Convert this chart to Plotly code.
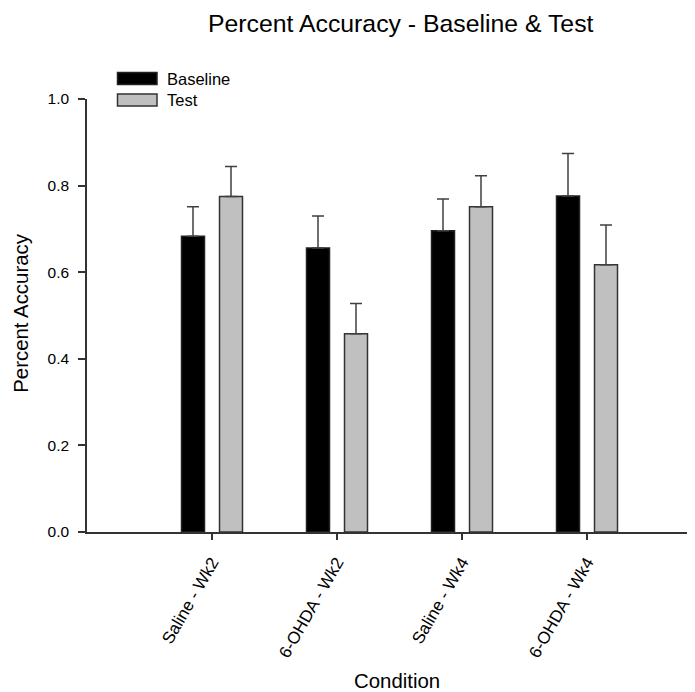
import plotly.graph_objects as go

categories = ["Saline - Wk2", "6-OHDA - Wk2", "Saline - Wk4", "6-OHDA - Wk4"]
baseline = [0.683, 0.656, 0.696, 0.776]
baseline_err = [0.068, 0.074, 0.073, 0.098]
test = [0.775, 0.458, 0.751, 0.617]
test_err = [0.069, 0.070, 0.072, 0.092]
y_ticks = [0.0, 0.2, 0.4, 0.6, 0.8, 1.0]

FONT = "Arial, Liberation Sans, sans-serif"
OFF = 8  # page body margin
W, H = 695 - OFF, 692 - OFF
L, T = 87 - OFF, 98.5 - OFF
B = H - (532 - OFF)
R = 0
pw, ph = W - L - R, H - T - B


def px_to_paper_x(px):
    return (px - OFF - L) / pw


def px_to_paper_y(py):
    return (H - B - (py - OFF)) / ph


fig = go.Figure()
fig.add_trace(go.Bar(
    x=categories, y=baseline, name="Baseline",
    marker=dict(color="black", line=dict(color="#222222", width=1.5)),
    error_y=dict(type="data", symmetric=False, array=baseline_err,
                 arrayminus=[0] * len(baseline_err),
                 color="#404040", thickness=1.5, width=6),
    showlegend=False,
))
fig.add_trace(go.Bar(
    x=categories, y=test, name="Test",
    marker=dict(color="#c0c0c0", line=dict(color="#333333", width=1.5)),
    error_y=dict(type="data", symmetric=False, array=test_err,
                 arrayminus=[0] * len(test_err),
                 color="#404040", thickness=1.5, width=6),
    showlegend=False,
))

# custom legend (wide swatches)
shapes = []
annotations = []
for i, (name, fill, line) in enumerate([("Baseline", "black", "#222222"),
                                         ("Test", "#c0c0c0", "#333333")]):
    y0 = 72 + i * 21.5
    shapes.append(dict(type="rect", xref="paper", yref="paper",
                       x0=px_to_paper_x(117.5), x1=px_to_paper_x(157),
                       y0=px_to_paper_y(y0), y1=px_to_paper_y(y0 + 12),
                       fillcolor=fill, line=dict(color=line, width=1.5)))
    annotations.append(dict(text=name, xref="paper", yref="paper",
                            x=px_to_paper_x(165), y=px_to_paper_y(y0 + 6),
                            xanchor="left", yanchor="middle", showarrow=False,
                            font=dict(family=FONT, size=16.5, color="black")))

# title and axis titles
annotations.append(dict(text="Percent Accuracy - Baseline & Test", xref="paper", yref="paper",
                        x=px_to_paper_x(401), y=px_to_paper_y(23),
                        xanchor="center", yanchor="middle", showarrow=False,
                        font=dict(family=FONT, size=24.8, color="black")))
annotations.append(dict(text="Percent Accuracy", xref="paper", yref="paper",
                        x=px_to_paper_x(21), y=px_to_paper_y(313.5), textangle=-90,
                        xanchor="center", yanchor="middle", showarrow=False,
                        font=dict(family=FONT, size=20.4, color="black")))
annotations.append(dict(text="Condition", xref="paper", yref="paper",
                        x=px_to_paper_x(397), y=px_to_paper_y(681),
                        xanchor="center", yanchor="middle", showarrow=False,
                        font=dict(family=FONT, size=20.4, color="black")))

fig.update_layout(
    width=W, height=H,
    margin=dict(l=L, r=R, t=T, b=B, autoexpand=False),
    paper_bgcolor="white", plot_bgcolor="white",
    barmode="group", bargap=0.392, bargroupgap=0.395,
    shapes=shapes, annotations=annotations,
    font=dict(family=FONT, color="black"),
)
fig.update_xaxes(
    type="category", range=[-1, 3.864], showline=True, linecolor="#333333", linewidth=1.5,
    ticks="outside", ticklen=6, tickwidth=1.5, tickcolor="#333333",
    tickangle=-60, tickfont=dict(family=FONT, size=17, color="black"),
    ticklabelstandoff=6,
    showgrid=False, zeroline=False, fixedrange=True,
)
fig.update_yaxes(
    range=[0, 1], showline=True, linecolor="#333333", linewidth=1.5,
    tickvals=y_ticks, ticktext=[f"{v:.1f}" for v in y_ticks],
    ticks="outside", ticklen=7, tickwidth=1.5, tickcolor="#333333",
    tickfont=dict(family=FONT, size=15.5, color="black"),
    ticklabelstandoff=6,
    showgrid=False, zeroline=False, fixedrange=True,
)

fig.write_html("out.html")
